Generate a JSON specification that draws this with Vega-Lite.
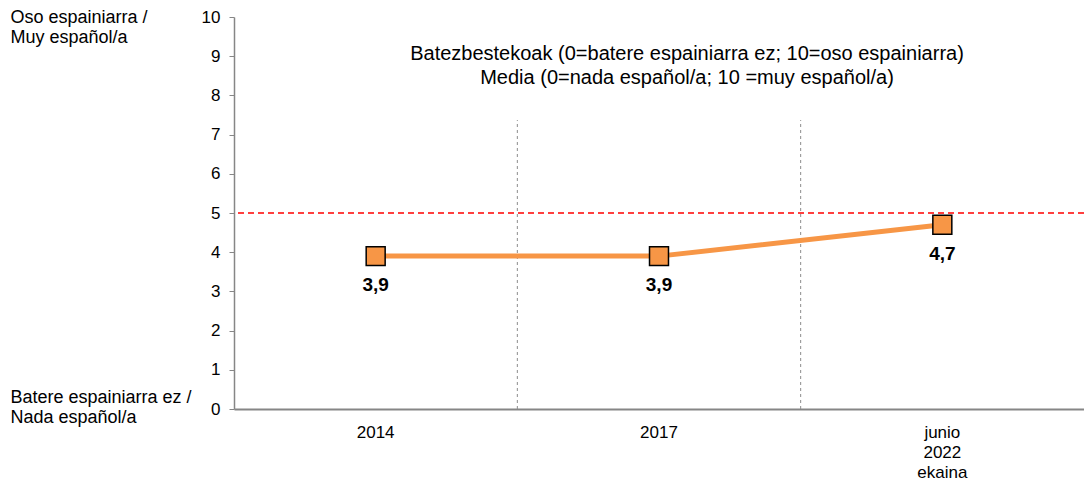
{
  "$schema": "https://vega.github.io/schema/vega-lite/v6.json",
  "width": 850,
  "height": 392,
  "autosize": {"type": "none"},
  "padding": {"left": 234, "top": 17, "right": 0, "bottom": 77},
  "background": "white",
  "config": {
    "view": {"stroke": null},
    "font": "Liberation Sans",
    "locale": {"number": {"decimal": ",", "thousands": ".", "grouping": [3], "currency": ["", " €"]}}
  },
  "title": {
    "text": ["Batezbestekoak (0=batere espainiarra ez; 10=oso espainiarra)", "Media (0=nada español/a; 10 =muy español/a)"],
    "fontSize": 20,
    "fontWeight": "normal",
    "color": "#000000",
    "anchor": "middle",
    "baseline": "alphabetic",
    "lineHeight": 24,
    "offset": 0,
    "dx": 28,
    "dy": 96
  },
  "data": {
    "values": [
      {"cat": "2014", "value": 3.9},
      {"cat": "2017", "value": 3.9},
      {"cat": "junio 2022 ekaina", "value": 4.7}
    ]
  },
  "layer": [
    {
      "transform": [{"filter": "datum.cat != '2014'"}],
      "mark": {"type": "rule", "color": "#8c8c8c", "strokeDash": [3, 3], "strokeWidth": 1},
      "encoding": {
        "x": {"field": "cat", "type": "nominal", "sort": ["2014", "2017", "junio 2022 ekaina"], "bandPosition": 0,
              "scale": {"type": "band", "paddingInner": 0, "paddingOuter": 0, "domain": ["2014", "2017", "junio 2022 ekaina"]},
              "axis": {
                "title": null,
                "ticks": false,
                "domainColor": "#868686",
                "domainWidth": 2,
                "labelAngle": 0,
                "labelFontSize": 17,
                "labelColor": "#000000",
                "labelPadding": 15,
                "labelLineHeight": 20,
                "labelExpr": "split(datum.label, ' ')",
                "grid": false
              }},
        "y": {"datum": 0, "type": "quantitative", "scale": {"domain": [0, 10], "nice": false}, "axis": null},
        "y2": {"datum": 7.37}
      }
    },
    {
      "data": {"values": [{}]},
      "mark": {"type": "rule", "color": "#FF0000", "strokeDash": [6, 4], "strokeWidth": 1.5},
      "encoding": {
        "y": {"datum": 5, "type": "quantitative", "scale": {"domain": [0, 10], "nice": false},
              "axis": {
                "orient": "left",
                "values": [0, 10],
                "ticks": false,
                "tickSize": 0,
                "domain": false,
                "grid": false,
                "title": null,
                "labelAlign": "left",
                "labelBaseline": "middle",
                "labelPadding": 224,
                "labelFontSize": 18,
                "labelLineHeight": 20,
                "labelLimit": 400,
                "labelColor": "#000000",
                "labelOverlap": false,
                "labelBound": false,
                "labelFlush": false,
                "labelOffset": {"condition": {"test": "datum.value == 10", "value": 0}, "value": -12},
                "labelExpr": "datum.value == 10 ? ['Oso espainiarra /', 'Muy español/a'] : ['Batere espainiarra ez /', 'Nada español/a']"
              }}
      }
    },
    {
      "mark": {"type": "line", "color": "#F79646", "strokeWidth": 5},
      "encoding": {
        "x": {"field": "cat", "type": "nominal", "sort": ["2014", "2017", "junio 2022 ekaina"]},
        "y": {"field": "value", "type": "quantitative", "scale": {"domain": [0, 10], "nice": false},
              "axis": {
                "orient": "left",
                "values": [0, 1, 2, 3, 4, 5, 6, 7, 8, 9, 10],
                "title": null,
                "grid": false,
                "tickSize": 5,
                "tickColor": "#868686",
                "domainColor": "#868686",
                "domainWidth": 1.5,
                "labelFontSize": 17,
                "labelColor": "#000000",
                "labelPadding": 9,
                "labelFlush": false,
                "labelBound": false
              }}
      }
    },
    {
      "mark": {"type": "point", "shape": "square", "size": 360, "filled": true, "fill": "#F79646", "stroke": "#000000", "strokeWidth": 1.5, "opacity": 1},
      "encoding": {
        "x": {"field": "cat", "type": "nominal", "sort": ["2014", "2017", "junio 2022 ekaina"]},
        "y": {"field": "value", "type": "quantitative", "axis": null}
      }
    },
    {
      "mark": {"type": "text", "fontSize": 19, "fontWeight": "bold", "color": "#000000", "baseline": "middle", "dy": 29},
      "encoding": {
        "x": {"field": "cat", "type": "nominal", "sort": ["2014", "2017", "junio 2022 ekaina"]},
        "y": {"field": "value", "type": "quantitative", "axis": null},
        "text": {"field": "value", "type": "quantitative", "format": ".1f"}
      }
    }
  ],
  "resolve": {"axis": {"y": "independent"}}
}
